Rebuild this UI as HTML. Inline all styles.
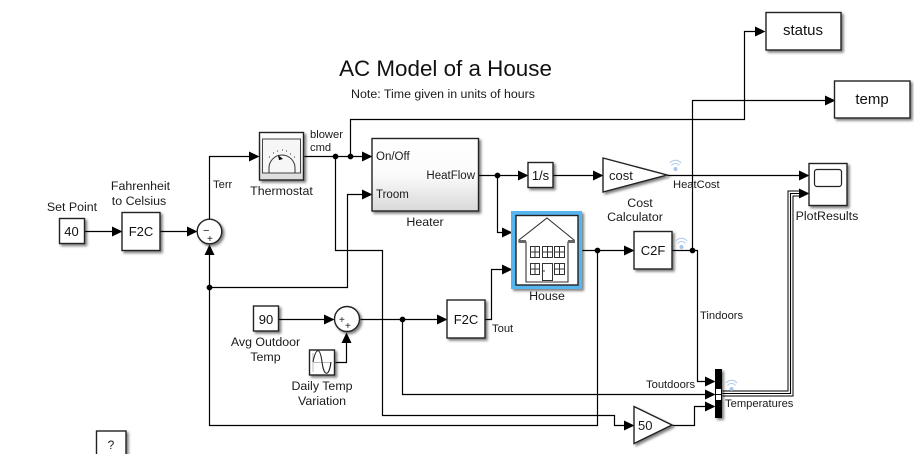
<!DOCTYPE html>
<html><head><meta charset="utf-8"><style>
html,body{margin:0;padding:0;background:#fff;overflow:hidden}
svg{display:block}
text{font-family:"Liberation Sans",sans-serif;fill:#1a1a1a}
.l{font-size:12.4px;text-anchor:middle}
.s{font-size:11.2px}
.b{font-size:13px;text-anchor:middle;fill:#111}
.w{fill:none;stroke:#000;stroke-width:1.2}
.k{fill:#fff;stroke:#222;stroke-width:1.4}
.h{fill:none;stroke:#333;stroke-width:1}
</style></head><body>
<svg width="914" height="454" viewBox="0 0 914 454" xmlns="http://www.w3.org/2000/svg">
<defs>
<filter id="sh" x="-20%" y="-20%" width="150%" height="150%"><feDropShadow dx="2" dy="2" stdDeviation="1.4" flood-color="#000" flood-opacity=".5"/></filter>
<linearGradient id="g1" x1="0" y1="0" x2="0" y2="1"><stop offset="0" stop-color="#fff"/><stop offset=".5" stop-color="#fbfbfb"/><stop offset="1" stop-color="#d8d8d8"/></linearGradient>
<linearGradient id="g2" x1="0" y1="0" x2="0" y2="1"><stop offset="0" stop-color="#fff"/><stop offset="1" stop-color="#dcdcdc"/></linearGradient>
</defs>

<text x="445.500" y="76" font-size="22.4" text-anchor="middle" style="fill:#111">AC Model of a House</text>
<text x="443" y="98" font-size="12.4" text-anchor="middle">Note: Time given in units of hours</text>

<g transform="translate(.5 .5)">
<!-- wires -->
<g class="w">
<path d="M84 231H114"/>
<path d="M160 231H189"/>
<path d="M209 219V156H251"/>
<path d="M304 156H364"/>
<path d="M350 156V119H744V31H757"/>
<path d="M692 250V100H827"/>
<path d="M335 156V250H382V415H614V425H626"/>
<path d="M209 252V425H597V250"/>
<path d="M209 287H347V194H364"/>
<path d="M478 175H520"/>
<path d="M497 175V232H504"/>
<path d="M553 175H595"/>
<path d="M667 175H801"/>
<path d="M582 250H626"/>
<path d="M672 250H697V381H707"/>
<path d="M278 319H326"/>
<path d="M360 319H439"/>
<path d="M335 362H346V340"/>
<path d="M402 319V394H707"/>
<path d="M485 319H491V269H504"/>
<path d="M672 425H694V406H707"/>
</g>
<!-- bus -->
<path d="M722 393H790V193H801" fill="none" stroke="#000" stroke-width="6"/>
<path d="M722 393H790V193H801" fill="none" stroke="#fff" stroke-width="4"/>
<path d="M722 393H790V193H801" fill="none" stroke="#000" stroke-width="1.100"/>

<!-- arrows -->
<g fill="#000">
<path d="M111.500 226L122 231L111.500 236Z M186.500 226L197 231L186.500 236Z M248.500 151L259 156L248.500 161Z"/>
<path d="M361.500 151L372 156L361.500 161Z M361.500 189L372 194L361.500 199Z M517.500 170L528 175L517.500 180Z"/>
<path d="M592.500 170L603 175L592.500 180Z M798.500 170L809 175L798.500 180Z M798.500 188L809 193L798.500 198Z"/>
<path d="M501.500 227L512 232L501.500 237Z M501.500 264L512 269L501.500 274Z M623.500 245L634 250L623.500 255Z"/>
<path d="M436.500 314L447 319L436.500 324Z M323.500 314L334 319L323.500 324Z M754.500 26L765 31L754.500 36Z M824.500 95L835 100L824.500 105Z"/>
<path d="M704.500 376L715 381L704.500 386Z M704.500 389L715 394L704.500 399Z M704.500 401L715 406L704.500 411Z M623.500 420L634 425L623.500 430Z"/>
<path d="M204 254.500L209 244L214 254.500Z M341 342.500L346 332L351 342.500Z"/>
<!-- junctions -->
<circle cx="335" cy="156" r="2.900"/><circle cx="350" cy="156" r="2.900"/><circle cx="209" cy="287" r="2.900"/>
<circle cx="497" cy="175" r="2.900"/><circle cx="597" cy="250" r="2.900"/><circle cx="692" cy="250" r="2.900"/><circle cx="402" cy="319" r="2.900"/>
</g>
</g>

<!-- blocks -->
<g filter="url(#sh)">
<rect class="k" x="59.500" y="218.500" width="25" height="25"/>
<rect class="k" x="122" y="212.500" width="38" height="38"/>
<circle class="k" cx="209.500" cy="231.500" r="12.300"/>
<rect x="259.500" y="132.500" width="44" height="47.500" fill="url(#g2)" stroke="#222" stroke-width="1.400"/>
<rect x="372" y="138.500" width="106.500" height="72.500" fill="url(#g1)" stroke="#222" stroke-width="1.400"/>
<rect class="k" x="528" y="162.500" width="25" height="25"/>
<path class="k" d="M603 158L667 175L603 192Z"/>
<rect x="511" y="211" width="71" height="78" fill="#56b4ef"/>
<rect class="k" x="516" y="215.500" width="62" height="69.500"/>
<rect class="k" x="634" y="231.500" width="38" height="37.500"/>
<rect class="k" x="809" y="163.500" width="38" height="42"/>
<rect class="k" x="766" y="12.500" width="75" height="37.500"/>
<rect class="k" x="834.500" y="81" width="75.500" height="37"/>
<rect class="k" x="253.500" y="306" width="25" height="25"/>
<circle class="k" cx="347" cy="319" r="12.500"/>
<rect class="k" x="309.500" y="350" width="25" height="25"/>
<rect class="k" x="447" y="300" width="38" height="38"/>
<path class="k" d="M634 406.500L672 425L634 443.500Z"/>
<rect x="715" y="369" width="7" height="49" fill="#000"/>
<rect class="k" x="96.500" y="431" width="29.500" height="30"/>
</g>
<rect x="716" y="389" width="5" height="5" fill="#fff"/><rect x="716" y="395" width="5" height="5" fill="#fff"/>

<!-- thermostat icon -->
<rect x="262.500" y="139" width="38" height="34" fill="#f6f6f6" stroke="#444" stroke-width="1"/>
<path d="M269 173V168A13 13 0 0 1 295 168V173" fill="none" stroke="#333"/>
<path d="M278 155L283 159L279 160Z" fill="#000"/>
<path d="M269 157h1M273 153h1M277 151h1M282 150h1M286 151h1M290 154h1M294 157h1" stroke="#333" stroke-width="1"/>

<!-- scope icon -->
<rect x="814.500" y="169.500" width="27" height="17" rx="2.500" fill="#fff" stroke="#222" stroke-width="1.200"/>

<!-- sine icon -->
<path d="M313 353V372M313 362.500H331" stroke="#bbb" fill="none"/>
<path d="M313 362C316 347 320 347 322 362C324 377 329 377 331 362" fill="none" stroke="#222" stroke-width="1.100"/>

<!-- house icon -->
<path fill="#fff" stroke="#333" stroke-width="1.100" d="M547 218L574 240V242H568V282H526V242H519V240Z"/>
<path d="M519 240L526 240V243H519Z M568 240H575V243H568Z" fill="#666"/>
<g class="h">
<rect x="530.500" y="246.500" width="9" height="11"/><path d="M535 246V257M530 252H539"/>
<rect x="542.500" y="246.500" width="10" height="11"/><path d="M547.500 246V257M542 252H552"/>
<rect x="554.500" y="246.500" width="10" height="11"/><path d="M559.500 246V257M554 252H564"/>
<rect x="530.500" y="263.500" width="9" height="11"/><path d="M535 263V274M530 269H539"/>
<rect x="554.500" y="263.500" width="10" height="11"/><path d="M559.500 263V274M554 269H564"/>
<rect x="542.500" y="263.500" width="10" height="17"/>
</g>
<circle cx="544" cy="271" r=".7" fill="#000"/>

<!-- block text -->
<text class="b" x="71.500" y="236">40</text>
<text class="b" x="141" y="236">F2C</text>
<text x="203" y="234" font-size="11">−</text>
<text x="207" y="242" font-size="10">+</text>
<text x="376" y="160" font-size="11.500">On/Off</text>
<text x="376" y="198" font-size="11.500">Troom</text>
<text x="475" y="179" font-size="11.500" text-anchor="end">HeatFlow</text>
<text class="b" x="540.500" y="180">1/s</text>
<text x="609" y="180" font-size="13">cost</text>
<text class="b" x="653" y="255">C2F</text>
<text class="b" x="803" y="35" style="font-size:15px">status</text>
<text class="b" x="872" y="104" style="font-size:15px">temp</text>
<text class="b" x="266" y="324">90</text>
<text x="339" y="323" font-size="10">+</text>
<text x="345" y="329" font-size="10">+</text>
<text class="b" x="466" y="324">F2C</text>
<text x="638" y="430" font-size="13">50</text>
<text x="111" y="449" font-size="12" text-anchor="middle">?</text>

<!-- labels -->
<text class="l" x="72" y="211">Set Point</text>
<text class="l" x="140.500" y="190">Fahrenheit</text>
<text class="l" x="139" y="205">to Celsius</text>
<text class="l" x="281.500" y="195">Thermostat</text>
<text class="l" x="425" y="226">Heater</text>
<text class="l" x="547" y="300">House</text>
<text class="l" x="640" y="207">Cost</text>
<text class="l" x="635" y="221">Calculator</text>
<text class="l" x="827" y="220">PlotResults</text>
<text class="l" x="265.500" y="346">Avg Outdoor</text>
<text class="l" x="265.500" y="361">Temp</text>
<text class="l" x="322" y="390">Daily Temp</text>
<text class="l" x="322" y="405">Variation</text>

<text class="s" x="213" y="188">Terr</text>
<text class="s" x="310" y="138">blower</text>
<text class="s" x="310" y="151">cmd</text>
<text class="s" x="673" y="188">HeatCost</text>
<text class="s" x="492" y="332">Tout</text>
<text class="s" x="700" y="319">Tindoors</text>
<text class="s" x="646" y="388">Toutdoors</text>
<text class="s" x="725" y="407">Temperatures</text>

<!-- wifi icons -->
<g fill="none" stroke="#b3cdec" stroke-width="1.100">
<path d="M670 163A7 7 0 0 1 681 163M671.500 165.500A5 5 0 0 1 679.500 165.500"/>
<path d="M676 241A7 7 0 0 1 687 241M677.500 243.500A5 5 0 0 1 685.500 243.500"/>
<path d="M726 383A7 7 0 0 1 737 383M727.500 385.500A5 5 0 0 1 735.500 385.500"/>
</g>
<g fill="#a5c6ea"><circle cx="675.500" cy="169" r="2"/><circle cx="681.500" cy="247" r="2"/><circle cx="731.500" cy="389" r="2"/></g>
</svg>
</body></html>
